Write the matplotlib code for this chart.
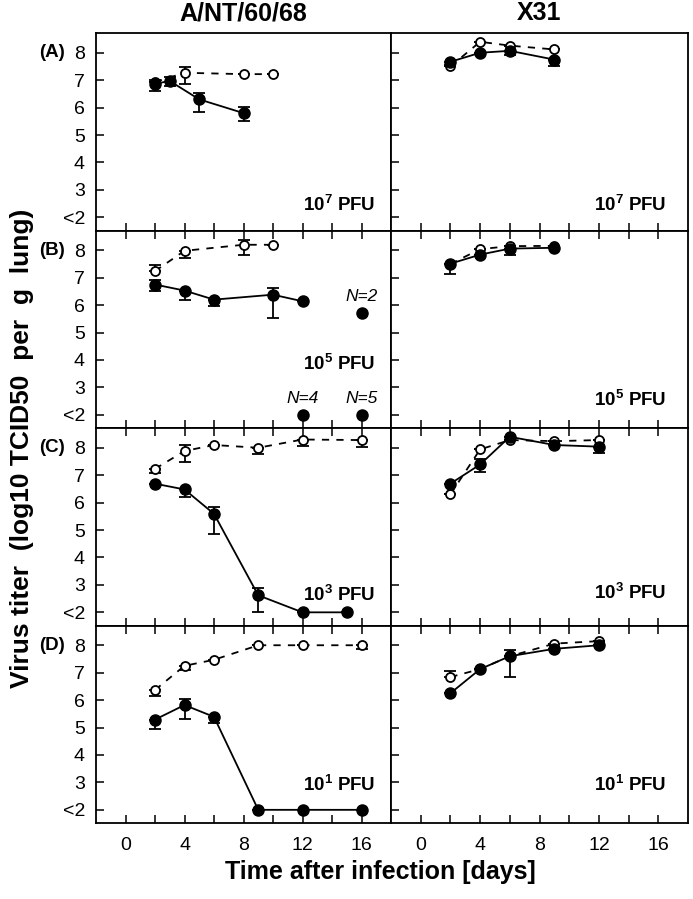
import numpy as np
import matplotlib
matplotlib.use("Agg")
import matplotlib.pyplot as plt

plt.rcParams["font.family"] = ["Liberation Sans", "DejaVu Sans"]
plt.rcParams["mathtext.fontset"] = "custom"
plt.rcParams["mathtext.rm"] = "Liberation Sans"
plt.rcParams["mathtext.bf"] = "Liberation Sans:bold"

# column titles / row labels / doses
col_titles = ["A/NT/60/68", "X31"]
row_labels = ["(A)", "(B)", "(C)", "(D)"]
doses = ["7", "5", "3", "1"]

# ---- A/NT/60/68 (left column) ----
# filled = one mouse strain (solid line), open = other strain (dashed line)
ant_fx = [[2, 3, 5, 8], [2, 4, 6, 10, 12], [2, 4, 6, 9, 12, 15], [2, 4, 6, 9, 12, 16]]
ant_fy = [[6.87, 6.97, 6.3, 5.8], [6.75, 6.53, 6.2, 6.38, 6.14],
          [6.69, 6.48, 5.59, 2.62, 2, 2], [5.29, 5.82, 5.39, 2, 2, 2]]
ant_flo = [[0.27, 0.2, 0.45, 0.3], [0.25, 0.33, 0.22, 0.86, 0],
           [0, 0.27, 0.75, 0.62, 0, 0], [0.36, 0.51, 0.22, 0, 0, 0]]
ant_fhi = [[0.15, 0.14, 0.24, 0.22], [0.17, 0, 0, 0.25, 0],
           [0, 0, 0.26, 0.25, 0, 0], [0, 0.22, 0, 0, 0, 0]]
ant_ox = [[2, 4, 8, 10], [2, 4, 8, 10], [2, 4, 6, 9, 12, 16], [2, 4, 6, 9, 12, 16]]
ant_oy = [[6.93, 7.27, 7.22, 7.22], [7.24, 7.98, 8.2, 8.2],
          [7.23, 7.88, 8.1, 8.0, 8.3, 8.28], [6.37, 7.25, 7.47, 8.0, 8.0, 8.0]]
ant_olo = [[0, 0.4, 0, 0], [0, 0.26, 0.38, 0],
           [0.15, 0.4, 0, 0.24, 0.24, 0.24], [0.22, 0.15, 0, 0, 0, 0.13]]
ant_ohi = [[0, 0.21, 0, 0], [0.23, 0, 0.19, 0],
           [0, 0.22, 0, 0, 0, 0], [0, 0, 0, 0, 0, 0]]

# lone (unconnected) filled points in row B, with group sizes
lone_x = [16, 12, 16]
lone_y = [5.71, 2, 2]
lone_n = ["N=2", "N=4", "N=5"]

# ---- X31 (right column) ----
x31_fx = [[2, 4, 6, 9], [2, 4, 6, 9], [2, 4, 6, 9, 12], [2, 4, 6, 9, 12]]
x31_fy = [[7.67, 8.0, 8.07, 7.75], [7.51, 7.84, 8.06, 8.09],
          [6.69, 7.39, 8.4, 8.1, 8.04], [6.25, 7.13, 7.6, 7.87, 8.0]]
x31_flo = [[0.1, 0, 0.17, 0.25], [0.39, 0, 0.23, 0],
           [0, 0.27, 0, 0, 0.22], [0, 0, 0.76, 0, 0]]
x31_fhi = [[0, 0, 0, 0], [0, 0, 0, 0],
           [0, 0.19, 0, 0, 0], [0, 0, 0.24, 0, 0]]
x31_ox = [[2, 4, 6, 9], [2, 4, 6, 9], [2, 4, 6, 9, 12], [2, 4, 6, 9, 12]]
x31_oy = [[7.5, 8.4, 8.26, 8.12], [7.5, 8.04, 8.15, 8.16],
          [6.3, 7.94, 8.28, 8.24, 8.28], [6.84, 7.13, 7.6, 8.06, 8.15]]
x31_olo = [[0, 0, 0, 0], [0, 0, 0, 0], [0, 0, 0, 0, 0], [0, 0, 0, 0, 0]]
x31_ohi = [[0, 0, 0, 0], [0, 0, 0, 0], [0, 0, 0, 0, 0], [0.21, 0, 0, 0, 0]]

# text y-position of the dose label per row (data units)
dose_y = [[2.44, 3.87, 2.64, 2.9], [2.44, 2.55, 2.72, 2.9]]

W, H = 693, 899
fig = plt.figure(figsize=(W / 100, H / 100), dpi=100)

col_left = [96, 391]
col_right = [391, 688]
top, bottom = 33, 823
row_h = (bottom - top) / 4

data = [
    (ant_fx, ant_fy, ant_flo, ant_fhi, ant_ox, ant_oy, ant_olo, ant_ohi),
    (x31_fx, x31_fy, x31_flo, x31_fhi, x31_ox, x31_oy, x31_olo, x31_ohi),
]

for c in range(2):
    fx, fy, flo, fhi, ox, oy, olo, ohi = data[c]
    for r in range(4):
        y0 = top + row_h * (r + 1)
        ax = fig.add_axes([col_left[c] / W, 1 - y0 / H,
                           (col_right[c] - col_left[c]) / W, row_h / H])

        # open circles, dashed
        ax.errorbar(ox[r], oy[r], yerr=[olo[r], ohi[r]], color="black",
                    ls=(0, (4, 4)), lw=1.3, marker="o", ms=6.5, mfc="white",
                    mec="black", mew=1.3, capsize=4, elinewidth=1.3,
                    capthick=1.3, zorder=3)
        # filled circles, solid
        ax.errorbar(fx[r], fy[r], yerr=[flo[r], fhi[r]], color="black",
                    ls="-", lw=1.3, marker="o", ms=8, mfc="black",
                    mec="black", capsize=4, elinewidth=1.3, capthick=1.3,
                    zorder=4)

        if c == 0 and r == 1:
            ax.plot(lone_x, lone_y, "o", color="black", ms=8, ls="none", zorder=4)
            for lx, ly, lt in zip(lone_x, lone_y, lone_n):
                ax.text(lx, ly + 0.6, lt, ha="center", va="center",
                        fontsize=12.5, style="italic")

        ax.set_xlim(-2, 18)
        ax.set_ylim(1.52, 8.72)
        ax.set_xticks(np.arange(0, 17, 4))
        ax.set_xticks(np.arange(2, 17, 4), minor=True)
        ax.set_yticks(np.arange(2, 9))
        ax.tick_params(which="both", direction="in", length=6, width=1.1,
                       top=(r > 0), labelsize=14)
        ax.tick_params(axis="x", pad=10)
        ax.tick_params(axis="y", pad=8)
        if c == 0:
            ax.set_yticklabels(["<2", "3", "4", "5", "6", "7", "8"])
            ax.text(-0.105, (8 - 1.52) / (8.72 - 1.52), row_labels[r],
                    transform=ax.transAxes, ha="right", va="center",
                    fontsize=13.5, fontweight="bold")
        else:
            ax.set_yticklabels([])
        if r < 3:
            ax.set_xticklabels([])
        for s in ax.spines.values():
            s.set_linewidth(1.3)

        xr = 0.946 if c == 0 else 0.928
        ax.text(xr, dose_y[c][r], r"$\mathbf{10^{%s}}$" % doses[r] + " PFU",
                transform=ax.get_yaxis_transform(), ha="right", va="center",
                fontsize=13.5, fontweight="bold")

        if r == 0:
            ax.set_title(col_titles[c], fontsize=18, fontweight="bold",
                         family=["Liberation Sans Narrow", "Liberation Sans"],
                         pad=9)

fig.text(22 / W, 1 - 448 / H, "Virus titer  (log10 TCID50  per  g  lung)",
         rotation=90, ha="center", va="center", fontsize=19, fontweight="bold",
         family=["Liberation Sans Narrow", "Liberation Sans"])
fig.text(380 / W, 1 - 872 / H, "Time after infection [days]",
         ha="center", va="center", fontsize=18, fontweight="bold",
         family=["Liberation Sans Narrow", "Liberation Sans"])

fig.savefig("out.png", dpi=100)
